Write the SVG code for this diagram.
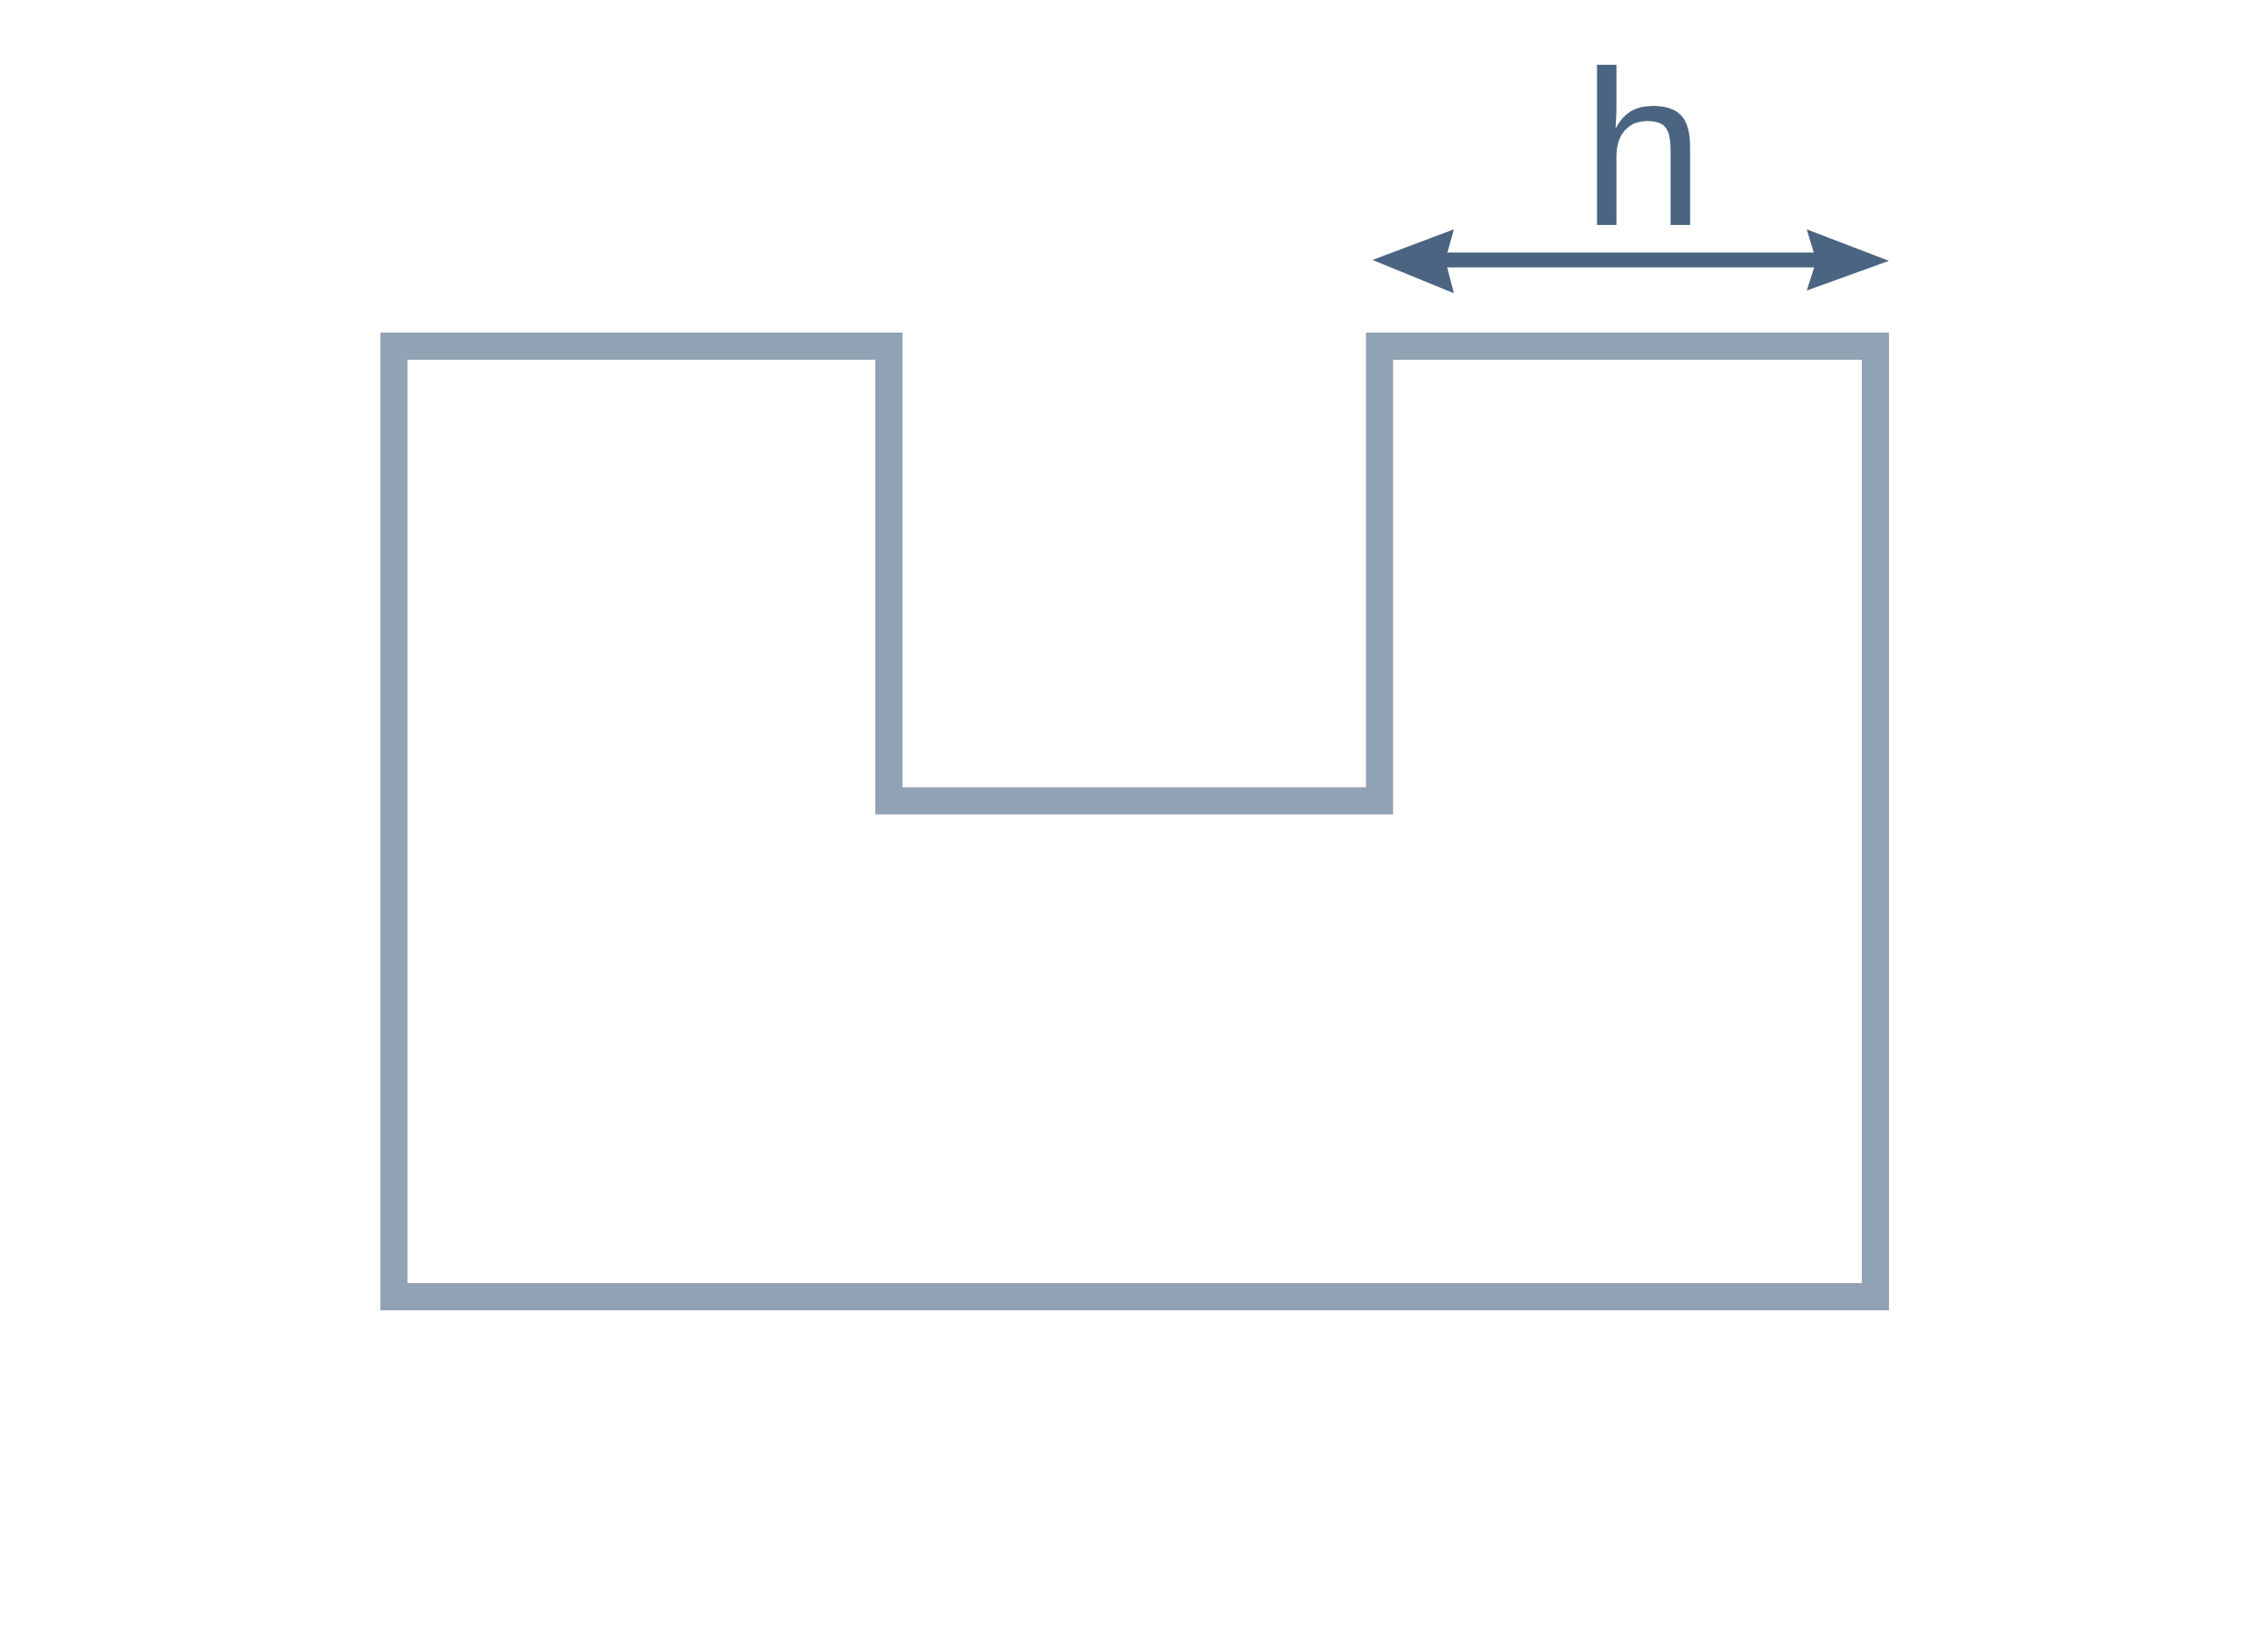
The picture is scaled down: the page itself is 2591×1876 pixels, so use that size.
<svg xmlns="http://www.w3.org/2000/svg" width="2591" height="1876" viewBox="0 0 2591 1876">
<style>
.shape{fill:none;stroke:#90A2B4;stroke-width:31;stroke-linejoin:miter}
.dim{stroke:#4A6482;stroke-width:17;fill:none}
.head{fill:#4A6482}
.lbl{font-family:"Liberation Sans",Arial,sans-serif;font-size:252px;fill:#4A6482;text-anchor:middle}
</style>
<rect width="2591" height="1876" fill="#ffffff"/>
<g id="profile">
<path class="shape" d="M450,395.5 H1015.5 V915 H1576 V395.5 H2142.5 V1481.5 H450 Z"/>
</g>
<g id="connectors">
<line class="dim" x1="1640" y1="297" x2="2090" y2="297"/>
<path class="head" d="M1568,297 L1661,262 L1651,297 L1661,335 Z"/>
<path class="head" d="M2158,298 L2064,262 L2075,298 L2064,332 Z"/>
</g>
<g id="label">
<text class="lbl" x="1877" y="257">h</text>
</g>
</svg>
